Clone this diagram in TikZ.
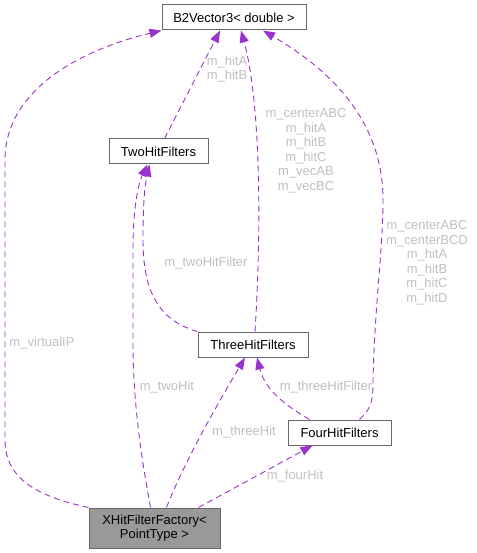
\documentclass[tikz,border=0pt]{standalone}
\usepackage{fontspec}
\setmainfont{Liberation Sans}
\usetikzlibrary{arrows.meta}
\definecolor{edgepurple}{HTML}{9A32CD}
\definecolor{boxgray}{HTML}{666666}
\definecolor{labelgray}{HTML}{BFBFBF}
\definecolor{factgray}{HTML}{999999}
\begin{document}
\begin{tikzpicture}[x=1pt, y=-1pt,
  every node/.style={font=\fontsize{13}{14.5}\selectfont},
  cls/.style={draw=boxgray, line width=1pt, fill=white, inner sep=0pt, minimum height=25pt},
  member/.style={->, >={Triangle[length=12pt,width=9pt]}, edgepurple, line width=0.9pt, dash pattern=on 6pt off 4pt},
  lbl/.style={text=labelgray, align=center, inner sep=0pt}]
\useasboundingbox (0,0) rectangle (476,553);

% Classes
\node[cls, minimum width=144pt] (b2v) at (234,17.5) {B2Vector3< double >};
\node[cls, minimum width=99pt] (two) at (158.5,151.5) {TwoHitFilters};
\node[cls, minimum width=110pt] (three) at (253,344.5) {ThreeHitFilters};
\node[cls, minimum width=103pt] (four) at (339.5,432.5) {FourHitFilters};
\node[cls, fill=factgray, minimum width=131pt, minimum height=40pt, align=center] (fac) at (154.5,528) {XHitFilterFactory<\\ PointType >};

% Members pointing to B2Vector3
\draw[member] (fac.north west) .. controls (40,497) and (5,480) .. (5,440) -- (5,160)
  .. controls (5,90) and (80,50) .. (b2v.south west);
\draw[member] ([xshift=6pt]two.north) -- ([xshift=-14pt]b2v.south);
\draw[member] ([xshift=2pt]three.north) .. controls (262,220) and (260,100) .. ([xshift=7pt]b2v.south);
\draw[member] ([xshift=20pt]four.north) .. controls (372,408) and (373,400) .. (373,380)
  .. controls (375,300) and (383,250) .. (383,200)
  .. controls (383,120) and (330,70) .. ([xshift=29pt]b2v.south);

% Members between the filters
\draw[member] (three.north west) .. controls (165,322) and (143,300) .. (143,240)
  .. controls (143,200) and (145,185) .. ([xshift=-9pt]two.south);
\draw[member] ([xshift=-30pt]four.north) .. controls (285,405) and (265,390) .. ([xshift=4pt]three.south);

% Members of the factory
\draw[member] ([xshift=-4pt]fac.north) .. controls (140,450) and (133,400) .. (133,340) -- (133,250)
  .. controls (133,200) and (140,180) .. ([xshift=-11pt]two.south);
\draw[member] ([xshift=12pt]fac.north) .. controls (185,460) and (220,400) .. ([xshift=-8pt]three.south);
\draw[member] ([xshift=44pt]fac.north) -- ([xshift=-27pt]four.south);

% Labels
\node[lbl] (lhit) at (227,69) {m\_hitA\\m\_hitB};
\node[lbl] (lthree) at (306,151) {m\_centerABC\\m\_hitA\\m\_hitB\\m\_hitC\\m\_vecAB\\m\_vecBC};
\node[lbl] (lfour) at (427,263) {m\_centerABC\\m\_centerBCD\\m\_hitA\\m\_hitB\\m\_hitC\\m\_hitD};
\node[lbl] (ltwofilter) at (206,263) {m\_twoHitFilter};
\node[lbl] (lvirtual) at (42,343) {m\_virtualIP};
\node[lbl] (ltwohit) at (167,387) {m\_twoHit};
\node[lbl] (lthreefilter) at (326,387) {m\_threeHitFilter};
\node[lbl] (lthreehit) at (244,432) {m\_threeHit};
\node[lbl] (lfourhit) at (295,476) {m\_fourHit};
\end{tikzpicture}
\end{document}
